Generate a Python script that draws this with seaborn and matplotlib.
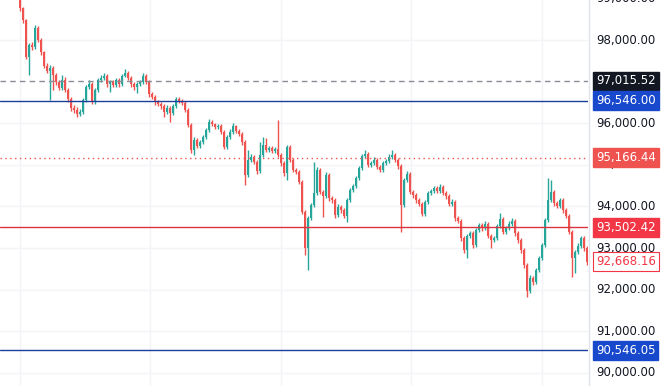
"""BTC/USD style candlestick chart with horizontal price levels."""
import matplotlib.pyplot as plt
import matplotlib.transforms as mtransforms
import pandas as pd
import seaborn as sns

# candle data (open of each candle = previous close)
first_open = 99100
closes = [
    98770, 98480, 97590, 97880, 97830, 98290, 98000, 97710, 97380, 97260,
    97330, 97160, 96990, 96850, 97040, 96800, 96580, 96370, 96320, 96220,
    96270, 96560, 96870, 96940, 96510, 96800, 97040, 97090, 97140, 96940,
    96990, 96920, 97040, 96940, 97140, 97210, 97090, 96940, 96870, 96940,
    96990, 97140, 96990, 96700, 96630, 96510, 96460, 96410, 96270, 96370,
    96250, 96410, 96580, 96530, 96490, 96320, 95960, 95360, 95600, 95450,
    95550, 95670, 95840, 96030, 95980, 95910, 95930, 95790, 95430, 95670,
    95790, 95930, 95810, 95740, 95550, 94760, 95120, 95190, 95070, 94850,
    95240, 95480, 95360, 95400, 95330, 95380, 95240, 95040, 94800, 95430,
    95120, 94880, 94830, 94590, 93870, 93000, 93720, 94030, 94320, 94880,
    94350, 94250, 94760, 94200, 94150, 93790, 93990, 93910, 93770, 94150,
    94390, 94490, 94680, 94920, 95210, 95260, 95000, 95040, 95120, 94950,
    94880, 95040, 95090, 95190, 95240, 95120, 94970, 94030, 94630, 94780,
    94350, 94270, 94150, 94060, 93820, 94110, 94320, 94370, 94440, 94370,
    94470, 94320, 94250, 94060, 94110, 93720, 93650, 93240, 92950, 93290,
    93360, 93070, 93430, 93550, 93480, 93580, 93290, 93190, 93240, 93530,
    93700, 93390, 93480, 93580, 93650, 93360, 93190, 92950, 92590, 91970,
    92280, 92180, 92470, 92760, 93070, 93670, 94150, 94350, 94080, 94010,
    94150, 93910, 93770, 93390, 92760, 92900, 93050, 93240, 93000, 92668,
]
highs = [
    99200, 98800, 98500, 97930, 97950, 98360, 98330, 98050, 97740, 97450,
    97400, 97380, 97200, 97040, 97160, 97100, 96850, 96620, 96430, 96380,
    96330, 96610, 96920, 97040, 96990, 96850, 97090, 97160, 97200, 97180,
    97040, 97040, 97090, 97090, 97190, 97300, 97250, 97130, 96990, 96990,
    97040, 97210, 97180, 97030, 96750, 96680, 96560, 96510, 96460, 96430,
    96410, 96460, 96640, 96620, 96580, 96530, 96360, 96000, 95660, 95650,
    95600, 95720, 95890, 96100, 96080, 96010, 95990, 95970, 95830, 95720,
    95850, 96010, 95960, 95860, 95790, 95600, 95360, 95250, 95240, 95110,
    95550, 95670, 95640, 95460, 95450, 95440, 96080, 95290, 95090, 95480,
    95480, 95160, 94930, 94880, 94640, 93920, 93780, 94090, 95070, 94940,
    94930, 94400, 94820, 94810, 94250, 94200, 94050, 94040, 93960, 94200,
    94440, 94550, 94740, 94980, 95270, 95360, 95310, 95100, 95180, 95170,
    95000, 95090, 95150, 95250, 95360, 95290, 95170, 95020, 94690, 94840,
    94830, 94400, 94320, 94200, 94110, 94160, 94380, 94430, 94500, 94490,
    94530, 94520, 94370, 94300, 94170, 94160, 93770, 93700, 93290, 93340,
    93420, 93410, 93480, 93610, 93600, 93640, 93630, 93340, 93300, 93580,
    93840, 93750, 93540, 93640, 93720, 93700, 93410, 93240, 93000, 92640,
    92340, 92330, 92530, 92820, 93130, 93730, 94680, 94630, 94400, 94130,
    94210, 94200, 93960, 93820, 93440, 92960, 93110, 93300, 93290, 93050,
]
lows = [
    98700, 98400, 97540, 97160, 97760, 97780, 97950, 97650, 97330, 97210,
    96560, 96800, 96930, 96790, 96800, 96740, 96520, 96300, 96250, 96150,
    96170, 96220, 96520, 96820, 96450, 96460, 96760, 96990, 97050, 96880,
    96750, 96870, 96880, 96880, 96900, 97100, 97040, 96880, 96810, 96730,
    96900, 96950, 96940, 96640, 96580, 96440, 96410, 96350, 96150, 96220,
    96030, 96200, 96370, 96480, 96440, 96260, 95900, 95290, 95230, 95400,
    95400, 95500, 95620, 95800, 95930, 95860, 95860, 95740, 95380, 95380,
    95630, 95750, 95760, 95690, 95480, 94510, 94710, 95070, 95010, 94790,
    94800, 95190, 95310, 95310, 95280, 95280, 95190, 94980, 94740, 94630,
    95070, 94820, 94770, 94530, 93810, 92830, 92470, 93670, 93980, 94270,
    94290, 93750, 94200, 94140, 94090, 93730, 93740, 93850, 93710, 93630,
    94100, 94340, 94440, 94630, 94870, 95160, 94940, 94950, 94990, 94890,
    94820, 94830, 94990, 95040, 95140, 95070, 94910, 93380, 93980, 94580,
    94290, 94210, 94090, 94000, 93760, 93770, 94060, 94270, 94320, 94320,
    94320, 94270, 94190, 94000, 94010, 93660, 93590, 93180, 92890, 92760,
    93240, 93010, 93020, 93380, 93420, 93430, 93230, 92990, 93140, 93190,
    93480, 93330, 93340, 93430, 93530, 93300, 93130, 92890, 92530, 91820,
    91920, 92120, 92130, 92420, 92710, 93020, 93620, 94100, 94020, 93950,
    93960, 93850, 93710, 93330, 92300, 92400, 92850, 93000, 92940, 92600,
]

# horizontal price levels drawn across the chart
level_prices = [97015.52, 96546.00, 95166.44, 93502.42, 90546.05]
level_colors = ["#8a8d96", "#1c3f9e", "#ef5350", "#d9343f", "#1c3f9e"]
level_styles = [(0, (4, 3)), "-", (0, (1, 2.5)), "-", "-"]
label_colors = ["#131722", "#1848cc", "#ef5350", "#f23645", "#1848cc"]

last_price = 92668.16
tick_prices = [99000, 98000, 96000, 95000, 94000, 93000, 92000, 91000, 90000]
time_grid = [0, 43.5, 87, 130.5, 174]

up_color = "#26a69a"
down_color = "#ef5350"

df = pd.DataFrame({"close": closes, "high": highs, "low": lows})
df["open"] = [first_open] + closes[:-1]
df["color"] = [up_color if c >= o else down_color for o, c in zip(df.open, df.close)]

sns.set_theme(style="white")
plt.rcParams["font.family"] = ["DejaVu Sans"]

fig = plt.figure(figsize=(6.61, 3.86), dpi=100)
fig.patch.set_facecolor("white")
ax = fig.add_axes([0, 0, 588 / 661, 1])
pax = fig.add_axes([588 / 661, 0, 73 / 661, 1])

ylo, yhi = 89683, 98962
for a in (ax, pax):
    a.set_ylim(ylo, yhi)
    a.set_xticks([])
    a.set_yticks([])
    for s in a.spines.values():
        s.set_visible(False)
ax.set_xlim(-20 / 3, 568 / 3)
pax.set_xlim(0, 1)

# grid
for p in tick_prices:
    ax.axhline(p, color="#f2f4f8", lw=1, zorder=0)
for t in time_grid:
    ax.axvline(t, color="#f2f4f8", lw=1, zorder=0)

# candles
ax.vlines(df.index, df.low, df.high, colors=df.color, lw=1, zorder=2)
body = (df.close - df.open).where((df.close - df.open).abs() > 30, 30)
ax.bar(df.index, body, bottom=df.open, width=0.85, color=df.color,
       linewidth=0, zorder=3)

# levels
for p, c, ls in zip(level_prices, level_colors, level_styles):
    ax.axhline(p, color=c, lw=1, ls=ls, zorder=4)

# price scale
pax.axvline(0.02, color="#e0e3eb", lw=1)
trans = mtransforms.blended_transform_factory(pax.transAxes, pax.transData)
for p in tick_prices:
    pax.text(0.11, p, f"{p:,.2f}", ha="left", va="center", fontsize=8.5,
             color="#131722", transform=trans, zorder=1)
for p, c in zip(level_prices, label_colors):
    pax.text(0.11, p, f"{p:,.2f}", ha="left", va="center", fontsize=8.5,
             color="white", transform=trans, zorder=5,
             bbox=dict(boxstyle="square,pad=0.25", fc=c, ec=c))
pax.text(0.11, last_price, f"{last_price:,.2f}", ha="left", va="center",
         fontsize=8.5, color="#f23645", transform=trans, zorder=5,
         bbox=dict(boxstyle="square,pad=0.25", fc="white", ec="#f23645", lw=0.8))

fig.savefig("out.png", dpi=100)
